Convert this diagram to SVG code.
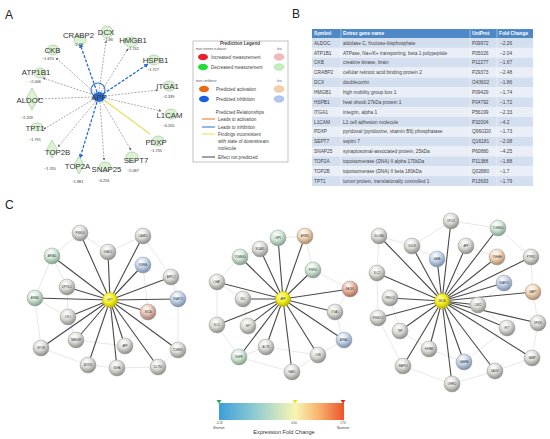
<svg xmlns="http://www.w3.org/2000/svg" width="550" height="439" viewBox="0 0 550 439">
<style>
.pl{font-family:"Liberation Sans",Arial,sans-serif;font-size:12px;fill:#222}
.gl{font-family:"Liberation Sans",Arial,sans-serif;font-size:7.8px;fill:#333;text-anchor:middle}
.gv{font-family:"Liberation Sans",Arial,sans-serif;font-size:3.8px;fill:#333;text-anchor:middle}
.gs{fill:#dcf2d4;stroke:#9bbf95;stroke-width:0.6}
.eg{fill:none;stroke:#888;stroke-width:0.7;stroke-dasharray:2,1.3}
.eb{fill:none;stroke:#2a6fd6;stroke-width:1.3;stroke-dasharray:3,1.5}
.lt{font-family:"Liberation Sans",Arial,sans-serif;font-size:4.6px;fill:#444}
.ls{font-family:"Liberation Sans",Arial,sans-serif;font-size:2.8px;fill:#555}
.th{font-family:"Liberation Sans",Arial,sans-serif;font-size:4.8px;fill:#fff;font-weight:bold}
.td{font-family:"Liberation Sans",Arial,sans-serif;font-size:4.8px;fill:#444}
.ra{fill:#d3deef}.rb{fill:#e9eef7}
.hub line{stroke:#4a4a4a;stroke-width:1.1}
.web line{stroke:#e2e2e2;stroke-width:0.8}
.nl{font-family:"Liberation Sans",Arial,sans-serif;font-size:2.6px;fill:#333;text-anchor:middle}
.sp{stroke:#9a9a9a;stroke-width:0.5}
.cb{font-family:"Liberation Sans",Arial,sans-serif;font-size:2.8px;fill:#444;text-anchor:middle}
</style>
<defs>
<marker id="ag" viewBox="0 0 6 6" refX="5" refY="3" markerWidth="4" markerHeight="4" orient="auto"><path d="M0,0 L6,3 L0,6 z" fill="#666"/></marker>
<marker id="ab" viewBox="0 0 6 6" refX="5" refY="3" markerWidth="3.5" markerHeight="3.5" orient="auto"><path d="M0,0 L6,3 L0,6 z" fill="#2a6fd6"/></marker>
<radialGradient id="gG" cx="0.4" cy="0.3" r="0.7"><stop offset="0" stop-color="#fff"/><stop offset="0.5" stop-color="#dcdcd6"/><stop offset="1" stop-color="#8c8c88"/></radialGradient>
<radialGradient id="gB" cx="0.4" cy="0.3" r="0.7"><stop offset="0" stop-color="#fff"/><stop offset="0.5" stop-color="#c3d3ea"/><stop offset="1" stop-color="#7a8ea8"/></radialGradient>
<radialGradient id="gO" cx="0.4" cy="0.3" r="0.7"><stop offset="0" stop-color="#fff"/><stop offset="0.5" stop-color="#f1d4b2"/><stop offset="1" stop-color="#a8886e"/></radialGradient>
<radialGradient id="gR" cx="0.4" cy="0.3" r="0.7"><stop offset="0" stop-color="#fff"/><stop offset="0.5" stop-color="#e6c2b4"/><stop offset="1" stop-color="#9c7a6c"/></radialGradient>
<radialGradient id="gS" cx="0.4" cy="0.3" r="0.7"><stop offset="0" stop-color="#fff"/><stop offset="0.5" stop-color="#eab49c"/><stop offset="1" stop-color="#a06c54"/></radialGradient>
<radialGradient id="gN" cx="0.4" cy="0.3" r="0.7"><stop offset="0" stop-color="#fff"/><stop offset="0.5" stop-color="#d2e6d6"/><stop offset="1" stop-color="#82a08c"/></radialGradient>
<radialGradient id="gY" cx="0.4" cy="0.35" r="0.7"><stop offset="0" stop-color="#fffec0"/><stop offset="0.5" stop-color="#f4ee20"/><stop offset="1" stop-color="#b5ad00"/></radialGradient>
<linearGradient id="bar" x1="0" y1="0" x2="1" y2="0"><stop offset="0" stop-color="#3b9fd9"/><stop offset="0.3" stop-color="#93cdd0"/><stop offset="0.61" stop-color="#f8f5b2"/><stop offset="0.8" stop-color="#f8b26e"/><stop offset="1" stop-color="#ec5428"/></linearGradient>
</defs>
<rect width="550" height="439" fill="#fff"/>
<text class="pl" x="5" y="19">A</text>
<text class="pl" x="292" y="18">B</text>
<text class="pl" x="5" y="209">C</text>

<!-- Panel A connectors -->
<g id="a-connectors">
<line class="eb" x1="97" y1="92" x2="80" y2="44" marker-end="url(#ab)"/>
<line class="eg" x1="99" y1="92" x2="106" y2="41" marker-end="url(#ag)"/>
<line class="eg" x1="101" y1="92" x2="128" y2="49" marker-end="url(#ag)"/>
<line class="eb" x1="103" y1="94" x2="148" y2="64" marker-end="url(#ab)"/>
<line class="eg" x1="95" y1="93" x2="56" y2="58" marker-end="url(#ag)"/>
<line class="eg" x1="94" y1="95" x2="43" y2="78" marker-end="url(#ag)"/>
<line class="eg" x1="93" y1="97" x2="38" y2="99" marker-end="url(#ag)"/>
<line class="eg" x1="94" y1="99" x2="44" y2="129" marker-end="url(#ag)"/>
<line class="eg" x1="96" y1="101" x2="58" y2="147" marker-end="url(#ag)"/>
<line class="eb" x1="97" y1="102" x2="80" y2="158" marker-end="url(#ab)"/>
<line class="eg" x1="100" y1="102" x2="104" y2="160" marker-end="url(#ag)"/>
<line class="eg" x1="102" y1="101" x2="131" y2="150" marker-end="url(#ag)"/>
<line x1="104" y1="100" x2="150" y2="134" stroke="#e8e060" stroke-width="1.3"/>
<line class="eg" x1="105" y1="98" x2="161" y2="111" marker-end="url(#ag)"/>
<line class="eg" x1="105" y1="96" x2="158" y2="90" marker-end="url(#ag)"/>
<circle cx="98" cy="90" r="7" fill="none" stroke="#2a6fd6" stroke-width="1.1"/>
</g>

<!-- Panel A nodes -->
<g id="a-APP"><ellipse cx="99" cy="97" rx="6" ry="5" fill="#2a6fd6"/><text class="gl" x="99" y="100" font-size="7">APP</text></g>
<g id="a-CRABP2"><ellipse class="gs" cx="80" cy="40" rx="6" ry="5"/><text class="gl" x="78.5" y="37.5">CRABP2</text><text class="gv" x="78" y="45.5">−2.48</text></g>
<g id="a-DCX"><circle class="gs" cx="107" cy="32" r="6"/><text class="gl" x="106" y="35">DCX</text><text class="gv" x="108" y="41">−1.86</text></g>
<g id="a-HMGB1"><ellipse class="gs" cx="131" cy="42" rx="7" ry="5"/><text class="gl" x="133" y="43.3">HMGB1</text><text class="gv" x="133" y="50">−1.742</text></g>
<g id="a-HSPB1"><ellipse class="gs" cx="154" cy="60" rx="6" ry="5"/><text class="gl" x="155.5" y="63">HSPB1</text><text class="gv" x="153" y="71">−1.727</text></g>
<g id="a-CKB"><ellipse class="gs" cx="53" cy="50" rx="6" ry="5"/><text class="gl" x="52.5" y="53">CKB</text><text class="gv" x="48" y="59.5">−1.670</text></g>
<g id="a-ATP1B1"><ellipse class="gs" cx="40" cy="73" rx="6" ry="5"/><text class="gl" x="36" y="75">ATP1B1</text><text class="gv" x="35" y="83">−2.046</text></g>
<g id="a-ALDOC"><polygon class="gs" points="32,88 38,99 32,110 26,99"/><text class="gl" x="30" y="103">ALDOC</text><text class="gv" x="27" y="118.5">−2.209</text></g>
<g id="a-TPT1"><ellipse class="gs" cx="37" cy="127" rx="6" ry="4"/><text class="gl" x="35" y="130.5">TPT1</text><text class="gv" x="35" y="141">−1.791</text></g>
<g id="a-TOP2B"><polygon class="gs" points="52,140 57,149 52,158 47,149"/><text class="gl" x="57.5" y="155">TOP2B</text><text class="gv" x="50" y="169.5">−1.705</text></g>
<g id="a-TOP2A"><polygon class="gs" points="79,156 84,165 79,174 74,165"/><text class="gl" x="77.5" y="169">TOP2A</text><text class="gv" x="77.5" y="183">−1.881</text></g>
<g id="a-SNAP25"><ellipse class="gs" cx="105" cy="167" rx="6" ry="5"/><text class="gl" x="106.5" y="172">SNAP25</text><text class="gv" x="103.5" y="182">−4.256</text></g>
<g id="a-SEPT7"><ellipse class="gs" cx="132" cy="157" rx="6" ry="5"/><text class="gl" x="136" y="163">SEPT7</text><text class="gv" x="133" y="172">−2.087</text></g>
<g id="a-PDXP"><ellipse class="gs" cx="158" cy="141" rx="6" ry="5"/><text class="gl" x="156" y="144.5">PDXP</text><text class="gv" x="156" y="152">−1.735</text></g>
<g id="a-L1CAM"><ellipse class="gs" cx="171" cy="114" rx="6" ry="5"/><text class="gl" x="169.5" y="117.5">L1CAM</text><text class="gv" x="168.5" y="127">−4.205</text></g>
<g id="a-ITGA1"><ellipse class="gs" cx="169" cy="86" rx="6" ry="5"/><text class="gl" x="167.5" y="89">ITGA1</text><text class="gv" x="168.5" y="98">−2.339</text></g>

<!-- Legend -->
<g id="legend">
<rect x="193" y="41" width="95" height="121" fill="#fff" stroke="#999" stroke-width="0.6"/>
<text class="lt" x="240" y="44.5" text-anchor="middle" font-weight="bold" font-size="4.8">Prediction Legend</text>
<text class="ls" x="196" y="50">more extreme in dataset</text><text class="ls" x="277" y="50">less</text>
<ellipse cx="203" cy="57" rx="5" ry="3.3" fill="#e8202a"/><text class="lt" x="211" y="58.6">Increased measurement</text><ellipse cx="279" cy="57" rx="5" ry="3.3" fill="#f4b8b8" stroke="#d99" stroke-width="0.4"/>
<ellipse cx="203" cy="67" rx="5" ry="3.3" fill="#22dd33"/><text class="lt" x="211" y="68.6">Decreased measurement</text><ellipse cx="279" cy="67" rx="5" ry="3.3" fill="#c4f0c0" stroke="#8c8" stroke-width="0.4"/>
<text class="ls" x="196" y="82">more confidence</text><text class="ls" x="277" y="82">less</text>
<ellipse cx="204" cy="89" rx="5" ry="3.3" fill="#e86a10"/><text class="lt" x="216" y="90.6">Predicted activation</text><ellipse cx="279" cy="89" rx="5" ry="3.3" fill="#f6cfa8" stroke="#d9a070" stroke-width="0.4"/>
<ellipse cx="204" cy="99" rx="5" ry="3.3" fill="#1a5fe0"/><text class="lt" x="216" y="100.6">Predicted inhibition</text><ellipse cx="279" cy="99" rx="5" ry="3.3" fill="#b0c8f0" stroke="#7f9fd0" stroke-width="0.4"/>
<text class="lt" x="240" y="114" text-anchor="middle">Predicted Relationships</text>
<line x1="202" y1="119" x2="215" y2="119" stroke="#e8731a" stroke-width="1"/><text class="lt" x="218" y="120.6">Leads to activation</text>
<line x1="202" y1="127" x2="215" y2="127" stroke="#2a6fd6" stroke-width="1"/><text class="lt" x="218" y="128.6">Leads to inhibition</text>
<line x1="202" y1="134" x2="215" y2="134" stroke="#e8e040" stroke-width="1"/><text class="lt" x="218" y="135.6">Findings inconsistent</text>
<text class="lt" x="218" y="143">with state of downstream</text>
<text class="lt" x="218" y="150">molecule</text>
<line x1="202" y1="157" x2="215" y2="157" stroke="#444" stroke-width="1"/><text class="lt" x="218" y="158.6">Effect not predicted</text>
</g>

<!-- Panel B table -->
<g id="table">
<rect x="312" y="29" width="221" height="9" fill="#4f88c6"/>
<rect class="ra" x="312" y="38" width="221" height="9.87"/>
<rect class="rb" x="312" y="47.87" width="221" height="9.87"/>
<rect class="ra" x="312" y="57.73" width="221" height="9.87"/>
<rect class="rb" x="312" y="67.6" width="221" height="9.87"/>
<rect class="ra" x="312" y="77.47" width="221" height="9.87"/>
<rect class="rb" x="312" y="87.33" width="221" height="9.87"/>
<rect class="ra" x="312" y="97.2" width="221" height="9.87"/>
<rect class="rb" x="312" y="107.07" width="221" height="9.87"/>
<rect class="ra" x="312" y="116.93" width="221" height="9.87"/>
<rect class="rb" x="312" y="126.8" width="221" height="9.87"/>
<rect class="ra" x="312" y="136.67" width="221" height="9.87"/>
<rect class="rb" x="312" y="146.53" width="221" height="9.87"/>
<rect class="ra" x="312" y="156.4" width="221" height="9.87"/>
<rect class="rb" x="312" y="166.27" width="221" height="9.87"/>
<rect class="ra" x="312" y="176.13" width="221" height="9.87"/>
<g stroke="#fff" stroke-width="0.4">
<line x1="341" y1="29" x2="341" y2="186"/><line x1="470" y1="29" x2="470" y2="186"/><line x1="497" y1="29" x2="497" y2="186"/>
</g>
<text class="th" x="314" y="35.3">Symbol</text><text class="th" x="343" y="35.3">Entrez gene name</text><text class="th" x="472" y="35.3">UniProt</text><text class="th" x="499" y="35.3">Fold Change</text>
<g class="td">
<text x="314" y="44.6">ALDOC</text><text x="343" y="44.6">aldolase C, fructose-bisphosphate</text><text x="472" y="44.6">P09972</text><text x="500" y="44.6">−2.26</text>
<text x="314" y="54.5">ATP1B1</text><text x="343" y="54.5">ATPase, Na+/K+ transporting, beta 1 polypeptide</text><text x="472" y="54.5">P05026</text><text x="500" y="54.5">−2.04</text>
<text x="314" y="64.3">CKB</text><text x="343" y="64.3">creatine kinase, brain</text><text x="472" y="64.3">P12277</text><text x="500" y="64.3">−1.67</text>
<text x="314" y="74.2">CRABP2</text><text x="343" y="74.2">cellular retinoic acid binding protein 2</text><text x="472" y="74.2">P29373</text><text x="500" y="74.2">−2.48</text>
<text x="314" y="84.1">DCX</text><text x="343" y="84.1">doublecortin</text><text x="472" y="84.1">O43602</text><text x="500" y="84.1">−1.86</text>
<text x="314" y="93.9">HMGB1</text><text x="343" y="93.9">high mobility group box 1</text><text x="472" y="93.9">P09429</text><text x="500" y="93.9">−1.74</text>
<text x="314" y="103.8">HSPB1</text><text x="343" y="103.8">heat shock 27kDa protein 1</text><text x="472" y="103.8">P04792</text><text x="500" y="103.8">−1.72</text>
<text x="314" y="113.7">ITGA1</text><text x="343" y="113.7">integrin, alpha 1</text><text x="472" y="113.7">P56199</text><text x="500" y="113.7">−2.33</text>
<text x="314" y="123.5">L1CAM</text><text x="343" y="123.5">L1 cell adhesion molecule</text><text x="472" y="123.5">P32004</text><text x="500" y="123.5">−4.2</text>
<text x="314" y="133.4">PDXP</text><text x="343" y="133.4">pyridoxal (pyridoxine, vitamin B6) phosphatase</text><text x="472" y="133.4">Q96GD0</text><text x="500" y="133.4">−1.73</text>
<text x="314" y="143.3">SEPT7</text><text x="343" y="143.3">septin 7</text><text x="472" y="143.3">Q16181</text><text x="500" y="143.3">−2.08</text>
<text x="314" y="153.1">SNAP25</text><text x="343" y="153.1">synaptosomal-associated protein, 25kDa</text><text x="472" y="153.1">P60880</text><text x="500" y="153.1">−4.25</text>
<text x="314" y="163">TOP2A</text><text x="343" y="163">topoisomerase (DNA) II alpha 170kDa</text><text x="472" y="163">P11388</text><text x="500" y="163">−1.88</text>
<text x="314" y="172.9">TOP2B</text><text x="343" y="172.9">topoisomerase (DNA) II beta 180kDa</text><text x="472" y="172.9">Q02880</text><text x="500" y="172.9">−1.7</text>
<text x="314" y="182.7">TPT1</text><text x="343" y="182.7">tumor protein, translationally controlled 1</text><text x="472" y="182.7">P13693</text><text x="500" y="182.7">−1.79</text>
</g>
</g>

<!-- Panel C connectors -->
<g id="c-connectors">
<g class="web">
<line x1="52" y1="256" x2="80" y2="233"/><line x1="80" y1="233" x2="108" y2="252"/><line x1="108" y1="252" x2="143" y2="236"/><line x1="143" y1="236" x2="171" y2="277"/><line x1="171" y1="277" x2="178" y2="299"/><line x1="178" y1="299" x2="178" y2="350"/><line x1="178" y1="350" x2="158" y2="367"/><line x1="158" y1="367" x2="117" y2="368"/><line x1="117" y1="368" x2="88" y2="365"/><line x1="88" y1="365" x2="41" y2="348"/><line x1="41" y1="348" x2="35" y2="298"/><line x1="35" y1="298" x2="52" y2="256"/><line x1="67" y1="287" x2="68" y2="317"/><line x1="68" y1="317" x2="76" y2="340"/><line x1="76" y1="340" x2="125" y2="346"/><line x1="125" y1="346" x2="148" y2="312"/><line x1="148" y1="312" x2="143" y2="265"/><line x1="52" y1="256" x2="67" y2="287"/><line x1="35" y1="298" x2="68" y2="317"/>
<line x1="240" y1="257" x2="260" y2="249"/><line x1="260" y1="249" x2="278" y2="238"/><line x1="278" y1="238" x2="305" y2="236"/><line x1="305" y1="236" x2="313" y2="270"/><line x1="313" y1="270" x2="350" y2="289"/><line x1="350" y1="289" x2="335" y2="312"/><line x1="335" y1="312" x2="344" y2="340"/><line x1="344" y1="340" x2="318" y2="355"/><line x1="318" y1="355" x2="292" y2="372"/><line x1="292" y1="372" x2="239" y2="357"/><line x1="239" y1="357" x2="217" y2="325"/><line x1="217" y1="325" x2="217" y2="282"/><line x1="217" y1="282" x2="240" y2="257"/><line x1="243" y1="299" x2="248" y2="326"/><line x1="248" y1="326" x2="266" y2="347"/><line x1="266" y1="347" x2="318" y2="355"/><line x1="217" y1="282" x2="243" y2="299"/><line x1="239" y1="357" x2="266" y2="347"/>
<line x1="379" y1="236" x2="412" y2="246"/><line x1="412" y1="246" x2="451" y2="221"/><line x1="451" y1="221" x2="498" y2="228"/><line x1="498" y1="228" x2="531" y2="257"/><line x1="531" y1="257" x2="533" y2="292"/><line x1="533" y1="292" x2="538" y2="323"/><line x1="538" y1="323" x2="532" y2="358"/><line x1="532" y1="358" x2="495" y2="371"/><line x1="495" y1="371" x2="452" y2="384"/><line x1="452" y1="384" x2="403" y2="366"/><line x1="403" y1="366" x2="378" y2="318"/><line x1="378" y1="318" x2="377" y2="273"/><line x1="377" y1="273" x2="379" y2="236"/><line x1="390" y1="298" x2="400" y2="331"/><line x1="400" y1="331" x2="429" y2="349"/><line x1="429" y1="349" x2="464" y2="362"/><line x1="464" y1="362" x2="507" y2="328"/><line x1="507" y1="328" x2="478" y2="305"/><line x1="478" y1="305" x2="504" y2="283"/><line x1="466" y1="246" x2="497" y2="257"/><line x1="437" y1="259" x2="412" y2="246"/>
</g>
<g class="hub">
<line x1="110" y1="300" x2="80" y2="233"/><line x1="110" y1="300" x2="108" y2="252"/><line x1="110" y1="300" x2="143" y2="236"/><line x1="110" y1="300" x2="143" y2="265"/><line x1="110" y1="300" x2="171" y2="277"/><line x1="110" y1="300" x2="178" y2="299"/><line x1="110" y1="300" x2="148" y2="312"/><line x1="110" y1="300" x2="178" y2="350"/><line x1="110" y1="300" x2="158" y2="367"/><line x1="110" y1="300" x2="125" y2="346"/><line x1="110" y1="300" x2="117" y2="368"/><line x1="110" y1="300" x2="88" y2="365"/><line x1="110" y1="300" x2="76" y2="340"/><line x1="110" y1="300" x2="41" y2="348"/><line x1="110" y1="300" x2="68" y2="317"/><line x1="110" y1="300" x2="35" y2="298"/><line x1="110" y1="300" x2="67" y2="287"/><line x1="110" y1="300" x2="52" y2="256"/>
<line x1="283" y1="299" x2="278" y2="238"/><line x1="283" y1="299" x2="305" y2="236"/><line x1="283" y1="299" x2="260" y2="249"/><line x1="283" y1="299" x2="240" y2="257"/><line x1="283" y1="299" x2="313" y2="270"/><line x1="283" y1="299" x2="217" y2="282"/><line x1="283" y1="299" x2="350" y2="289"/><line x1="283" y1="299" x2="243" y2="299"/><line x1="283" y1="299" x2="335" y2="312"/><line x1="283" y1="299" x2="217" y2="325"/><line x1="283" y1="299" x2="248" y2="326"/><line x1="283" y1="299" x2="344" y2="340"/><line x1="283" y1="299" x2="266" y2="347"/><line x1="283" y1="299" x2="239" y2="357"/><line x1="283" y1="299" x2="318" y2="355"/><line x1="283" y1="299" x2="292" y2="372"/>
<line x1="442" y1="301" x2="379" y2="236"/><line x1="442" y1="301" x2="412" y2="246"/><line x1="442" y1="301" x2="437" y2="259"/><line x1="442" y1="301" x2="451" y2="221"/><line x1="442" y1="301" x2="466" y2="246"/><line x1="442" y1="301" x2="497" y2="257"/><line x1="442" y1="301" x2="498" y2="228"/><line x1="442" y1="301" x2="531" y2="257"/><line x1="442" y1="301" x2="377" y2="273"/><line x1="442" y1="301" x2="504" y2="283"/><line x1="442" y1="301" x2="533" y2="292"/><line x1="442" y1="301" x2="390" y2="298"/><line x1="442" y1="301" x2="478" y2="305"/><line x1="442" y1="301" x2="378" y2="318"/><line x1="442" y1="301" x2="400" y2="331"/><line x1="442" y1="301" x2="538" y2="323"/><line x1="442" y1="301" x2="507" y2="328"/><line x1="442" y1="301" x2="429" y2="349"/><line x1="442" y1="301" x2="403" y2="366"/><line x1="442" y1="301" x2="464" y2="362"/><line x1="442" y1="301" x2="495" y2="371"/><line x1="442" y1="301" x2="532" y2="358"/><line x1="442" y1="301" x2="452" y2="384"/>
</g>
</g>

<!-- Panel C: HTT network nodes -->
<g id="c-HTT-net">
<g id="n-HTT"><circle cx="110" cy="300" r="7.5" fill="url(#gY)" stroke="#b5ad00" stroke-width="0.5"/><text class="nl" x="110" y="301">HTT</text></g>
<g id="h1"><circle class="sp" cx="80" cy="233" r="8" fill="url(#gG)"/><text class="nl" x="80" y="234">PSMD4</text></g>
<g id="h2"><circle class="sp" cx="108" cy="252" r="8" fill="url(#gG)"/><text class="nl" x="108" y="253">GNAO1</text></g>
<g id="h3"><circle class="sp" cx="143" cy="236" r="8" fill="url(#gG)"/><text class="nl" x="143" y="237">CAMK2</text></g>
<g id="h4"><circle class="sp" cx="143" cy="265" r="8" fill="url(#gB)"/><text class="nl" x="143" y="266">KIBRA</text></g>
<g id="h5"><circle class="sp" cx="171" cy="277" r="8" fill="url(#gG)"/><text class="nl" x="171" y="278">ARPC2</text></g>
<g id="h6"><circle class="sp" cx="178" cy="299" r="8" fill="url(#gB)"/><text class="nl" x="178" y="300">SNAP25</text></g>
<g id="h7"><circle class="sp" cx="148" cy="312" r="8" fill="url(#gR)"/><text class="nl" x="148" y="313">SNCA</text></g>
<g id="h8"><circle class="sp" cx="178" cy="350" r="8" fill="url(#gG)"/><text class="nl" x="178" y="351">TCERG1</text></g>
<g id="h9"><circle class="sp" cx="158" cy="367" r="8" fill="url(#gG)"/><text class="nl" x="158" y="368">DCTN1</text></g>
<g id="h10"><circle class="sp" cx="125" cy="346" r="8" fill="url(#gG)"/><text class="nl" x="125" y="347">APP</text></g>
<g id="h11"><circle class="sp" cx="117" cy="368" r="8" fill="url(#gG)"/><text class="nl" x="117" y="369">SDHA</text></g>
<g id="h12"><circle class="sp" cx="88" cy="365" r="8" fill="url(#gG)"/><text class="nl" x="88" y="366">ATXN3</text></g>
<g id="h13"><circle class="sp" cx="76" cy="340" r="8" fill="url(#gG)"/><text class="nl" x="76" y="341">TARDBP</text></g>
<g id="h14"><circle class="sp" cx="41" cy="348" r="8" fill="url(#gG)"/><text class="nl" x="41" y="349">MTOR</text></g>
<g id="h15"><circle class="sp" cx="68" cy="317" r="8" fill="url(#gG)"/><text class="nl" x="68" y="318">CFL1</text></g>
<g id="h16"><circle class="sp" cx="35" cy="298" r="8" fill="url(#gN)"/><text class="nl" x="35" y="299">APBA1</text></g>
<g id="h17"><circle class="sp" cx="67" cy="287" r="8" fill="url(#gG)"/><text class="nl" x="67" y="288">DPYSL2</text></g>
<g id="h18"><circle class="sp" cx="52" cy="256" r="8" fill="url(#gN)"/><text class="nl" x="52" y="257">ARSA1</text></g>
</g>

<!-- Panel C: APP network nodes -->
<g id="c-APP-net">
<g id="n-APP"><circle cx="283" cy="299" r="7.5" fill="url(#gY)" stroke="#b5ad00" stroke-width="0.5"/><text class="nl" x="283" y="300">APP</text></g>
<g id="p1"><circle class="sp" cx="278" cy="238" r="8" fill="url(#gN)"/><text class="nl" x="278" y="239">LRP1</text></g>
<g id="p2"><circle class="sp" cx="305" cy="236" r="8" fill="url(#gO)"/><text class="nl" x="305" y="237">APBB1</text></g>
<g id="p3"><circle class="sp" cx="260" cy="249" r="8" fill="url(#gG)"/><text class="nl" x="260" y="250">NCAM1</text></g>
<g id="p4"><circle class="sp" cx="240" cy="257" r="8" fill="url(#gN)"/><text class="nl" x="240" y="258">TOMM40</text></g>
<g id="p5"><circle class="sp" cx="313" cy="270" r="8" fill="url(#gN)"/><text class="nl" x="313" y="271">PSEN1</text></g>
<g id="p6"><circle class="sp" cx="217" cy="282" r="8" fill="url(#gG)"/><text class="nl" x="217" y="283">CHAT</text></g>
<g id="p7"><circle class="sp" cx="350" cy="289" r="8" fill="url(#gS)"/><text class="nl" x="350" y="290">BACE1</text></g>
<g id="p8"><circle class="sp" cx="243" cy="299" r="8" fill="url(#gG)"/><text class="nl" x="243" y="300">NCL</text></g>
<g id="p9"><circle class="sp" cx="335" cy="312" r="8" fill="url(#gG)"/><text class="nl" x="335" y="313">ITGA1</text></g>
<g id="p10"><circle class="sp" cx="217" cy="325" r="8" fill="url(#gG)"/><text class="nl" x="217" y="326">KLC1</text></g>
<g id="p11"><circle class="sp" cx="248" cy="326" r="8" fill="url(#gG)"/><text class="nl" x="248" y="327">SET</text></g>
<g id="p12"><circle class="sp" cx="344" cy="340" r="8" fill="url(#gB)"/><text class="nl" x="344" y="341">APBA2</text></g>
<g id="p13"><circle class="sp" cx="266" cy="347" r="8" fill="url(#gG)"/><text class="nl" x="266" y="348">ACTB</text></g>
<g id="p14"><circle class="sp" cx="239" cy="357" r="8" fill="url(#gN)"/><text class="nl" x="239" y="358">NGFR</text></g>
<g id="p15"><circle class="sp" cx="318" cy="355" r="8" fill="url(#gG)"/><text class="nl" x="318" y="356">CKB</text></g>
<g id="p16"><circle class="sp" cx="292" cy="372" r="8" fill="url(#gG)"/><text class="nl" x="292" y="373">NAE1</text></g>
</g>

<!-- Panel C: SNCA network nodes -->
<g id="c-SNCA-net">
<g id="n-SNCA"><circle cx="442" cy="301" r="7.5" fill="url(#gY)" stroke="#b5ad00" stroke-width="0.5"/><text class="nl" x="442" y="302">SNCA</text></g>
<g id="s1"><circle class="sp" cx="379" cy="236" r="8" fill="url(#gG)"/><text class="nl" x="379" y="237">SLC6A3</text></g>
<g id="s2"><circle class="sp" cx="412" cy="246" r="8" fill="url(#gG)"/><text class="nl" x="412" y="247">SGCE</text></g>
<g id="s3"><circle class="sp" cx="437" cy="259" r="8" fill="url(#gB)"/><text class="nl" x="437" y="260">GABA</text></g>
<g id="s4"><circle class="sp" cx="451" cy="221" r="8" fill="url(#gG)"/><text class="nl" x="451" y="222">CPLX1</text></g>
<g id="s5"><circle class="sp" cx="466" cy="246" r="8" fill="url(#gG)"/><text class="nl" x="466" y="247">APP</text></g>
<g id="s6"><circle class="sp" cx="497" cy="257" r="8" fill="url(#gO)"/><text class="nl" x="497" y="258">YWHAH</text></g>
<g id="s7"><circle class="sp" cx="498" cy="228" r="8" fill="url(#gN)"/><text class="nl" x="498" y="229">TOMM40</text></g>
<g id="s8"><circle class="sp" cx="531" cy="257" r="8" fill="url(#gG)"/><text class="nl" x="531" y="258">PTPN1</text></g>
<g id="s9"><circle class="sp" cx="377" cy="273" r="8" fill="url(#gG)"/><text class="nl" x="377" y="274">SLC2</text></g>
<g id="s10"><circle class="sp" cx="504" cy="283" r="8" fill="url(#gB)"/><text class="nl" x="504" y="284">SNAP25</text></g>
<g id="s11"><circle class="sp" cx="533" cy="292" r="8" fill="url(#gO)"/><text class="nl" x="533" y="293">MAPT</text></g>
<g id="s12"><circle class="sp" cx="390" cy="298" r="8" fill="url(#gG)"/><text class="nl" x="390" y="299">PRKCD</text></g>
<g id="s13"><circle class="sp" cx="478" cy="305" r="8" fill="url(#gG)"/><text class="nl" x="478" y="306">CBX2</text></g>
<g id="s14"><circle class="sp" cx="378" cy="318" r="8" fill="url(#gG)"/><text class="nl" x="378" y="319">PSMD13</text></g>
<g id="s15"><circle class="sp" cx="400" cy="331" r="8" fill="url(#gG)"/><text class="nl" x="400" y="332">TBP</text></g>
<g id="s16"><circle class="sp" cx="538" cy="323" r="8" fill="url(#gG)"/><text class="nl" x="538" y="324">VPS35</text></g>
<g id="s17"><circle class="sp" cx="507" cy="328" r="8" fill="url(#gG)"/><text class="nl" x="507" y="329">HTT</text></g>
<g id="s18"><circle class="sp" cx="429" cy="349" r="8" fill="url(#gG)"/><text class="nl" x="429" y="350">HSPA8</text></g>
<g id="s19"><circle class="sp" cx="403" cy="366" r="8" fill="url(#gG)"/><text class="nl" x="403" y="367">MAPK3</text></g>
<g id="s20"><circle class="sp" cx="464" cy="362" r="8" fill="url(#gB)"/><text class="nl" x="464" y="363">GABRA</text></g>
<g id="s21"><circle class="sp" cx="495" cy="371" r="8" fill="url(#gG)"/><text class="nl" x="495" y="372">GAD67</text></g>
<g id="s22"><circle class="sp" cx="532" cy="358" r="8" fill="url(#gG)"/><text class="nl" x="532" y="359">VAMP</text></g>
<g id="s23"><circle class="sp" cx="452" cy="384" r="8" fill="url(#gG)"/><text class="nl" x="452" y="385">LRRK2</text></g>
</g>

<!-- Colour scale -->
<g id="colour-scale">
<rect x="219" y="403" width="125" height="17" fill="url(#bar)"/>
<polygon points="216.5,400 221.5,400 219,403.5" fill="#2aa84a"/>
<polygon points="292.5,400 297.5,400 295,403.5" fill="#e8e020"/>
<polygon points="340.5,400 345.5,400 343,403.5" fill="#d8281a"/>
<text class="cb" x="219" y="424">−4.26</text>
<text class="cb" x="219" y="428.5">Minimum</text>
<text class="cb" x="294" y="424">0.00</text>
<text class="cb" x="343" y="424">2.76</text>
<text class="cb" x="343" y="428.5">Maximum</text>
<text x="284" y="434" text-anchor="middle" font-family="Liberation Sans, Arial, sans-serif" font-size="5.6" fill="#333">Expression Fold Change</text>
</g>
</svg>
